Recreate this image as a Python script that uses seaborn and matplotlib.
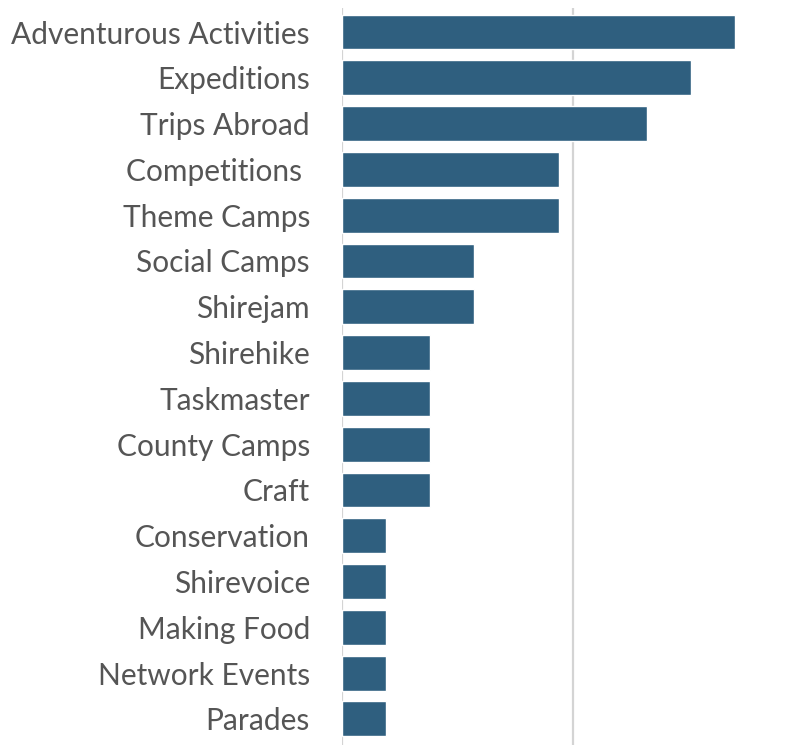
import numpy as np
import pandas as pd
import matplotlib.pyplot as plt
import seaborn as sns

# data (share of responses)
activities = [
    "Adventurous Activities", "Expeditions", "Trips Abroad", "Competitions ",
    "Theme Camps", "Social Camps", "Shirejam", "Shirehike", "Taskmaster",
    "County Camps", "Craft", "Conservation", "Shirevoice", "Making Food",
    "Network Events", "Parades",
]
share = [
    0.170, 0.151, 0.132, 0.094, 0.094, 0.057, 0.057, 0.038, 0.038,
    0.038, 0.038, 0.019, 0.019, 0.019, 0.019, 0.019,
]
grid_ticks = [0.0, 0.1]

BAR_COLOR = "#2f5f7f"
TEXT_COLOR = "#555555"

sns.set_theme(style="white")
plt.rcParams["font.family"] = ["Lato", "DejaVu Sans"]

df = pd.DataFrame({"activity": activities, "share": share})

fig = plt.figure(figsize=(7.95, 7.45), dpi=100)
ax = fig.add_axes([0.430, 0.0, 0.570, 0.989])

sns.barplot(data=df, y="activity", x="share", orient="h", color=BAR_COLOR,
            saturation=1, width=0.76, ax=ax)

ax.set_xlim(0, 0.196)
ax.set_ylim(15.57, -0.52)
ax.set_xticks(grid_ticks)
ax.tick_params(axis="x", bottom=False, labelbottom=False)
ax.tick_params(axis="y", left=False, labelsize=21.5, labelcolor=TEXT_COLOR, pad=17)
for v in grid_ticks:
    ax.axvline(v, color="#d4d4d4", linewidth=1.6, zorder=0)
for s in ax.spines.values():
    s.set_visible(False)
ax.set_xlabel("")
ax.set_ylabel("")

fig.savefig("out.png", dpi=100)
